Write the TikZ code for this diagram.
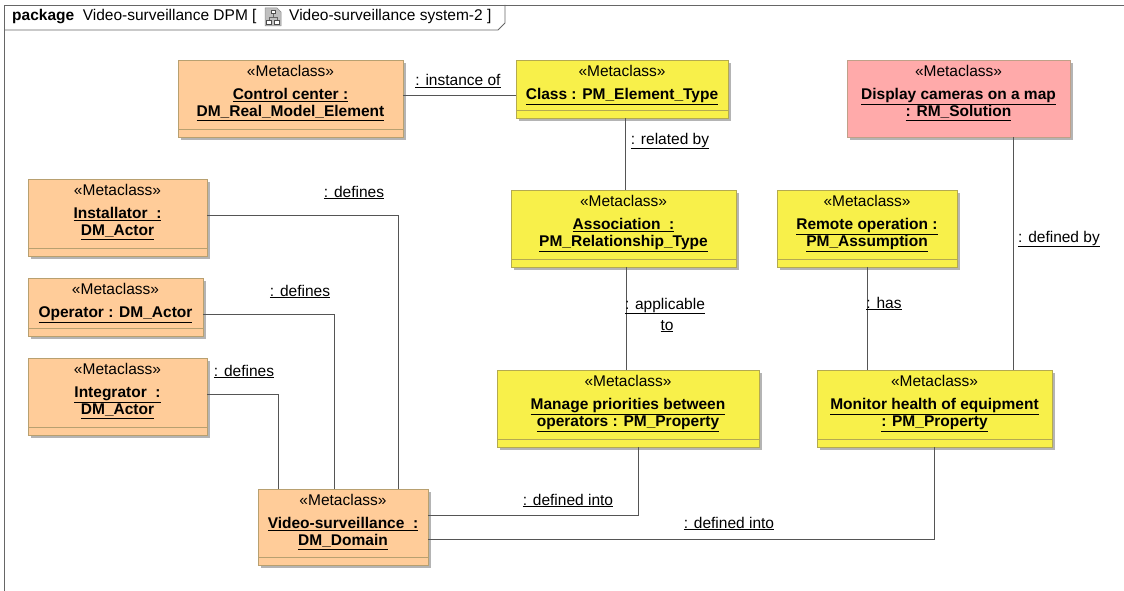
\documentclass[tikz,border=0pt]{standalone}
\usepackage{fontspec}
\setmainfont{Liberation Sans}
\usetikzlibrary{fit,shadows}

\definecolor{orangefill}{HTML}{FFCC99}
\definecolor{orangeline}{HTML}{B8A070}
\definecolor{yellowfill}{HTML}{F8F04A}
\definecolor{yellowline}{HTML}{B4AA50}
\definecolor{pinkfill}{HTML}{FFAAAA}
\definecolor{pinkline}{HTML}{C0A088}
\definecolor{wire}{HTML}{555555}
\definecolor{shade}{HTML}{B4B4B4}
\definecolor{framec}{HTML}{666666}

\tikzset{
  mc/.style={inner sep=0pt, line width=0.9pt,
    drop shadow={shadow xshift=3pt, shadow yshift=-3pt, fill=shade, opacity=1}},
  comp/.style={path picture={\draw[#1, line width=0.9pt]
    ([yshift=8pt]path picture bounding box.south west) --
    ([yshift=8pt]path picture bounding box.south east);}},
  obox/.style={mc, draw=orangeline, fill=orangefill, comp=orangeline},
  ybox/.style={mc, draw=yellowline, fill=yellowfill, comp=yellowline},
  pbox/.style={mc, draw=pinkline, fill=pinkfill},
  txt/.style={inner sep=0pt, text height=11pt, text depth=3pt,
    font=\fontsize{15.5}{17}\selectfont},
  st/.style={txt},
  nm/.style={txt, font=\fontsize{15.5}{17}\selectfont\bfseries},
  lbl/.style={txt},
  wire/.style={draw=wire, line width=0.9pt},
}

\newcommand\stereo[1]{\node[st] (#1-st) at ([yshift=-13pt]#1.north) {«Metaclass»};}
\newcommand\nameline[4]{\node[nm] (#1-#2) at ([yshift=-#3pt]#1.north) {\underline{#4}};}

\begin{document}
\begin{tikzpicture}[x=1pt,y=-1pt]
\useasboundingbox (0,0) rectangle (1124,591);
\clip (0,0) rectangle (1124,591);
\fill[white] (0,0) rectangle (1124,591);

% package frame and its name tab
\draw[framec, line width=0.9pt] (4,5) rectangle (1140,610);
\draw[framec, line width=0.9pt] (4,30) -- (498,30) -- (505,23) -- (505,5);
\node[txt, anchor=west] (pkg) at (12,17)
  {\textbf{package}\ \ Video-surveillance DPM [};
% diagram icon
\begin{scope}[shift={(273,17)}]
  \fill[black!25, draw=black!45, line width=0.5pt]
    (-8,-9) -- (4,-9) -- (8,-5) -- (8,9) -- (-8,9) -- cycle;
  \draw[black!60, line width=0.6pt] (0,-4) -- (0,0) (-4,0) -- (4,0) (-4,0) -- (-4,3) (4,0) -- (4,3);
  \fill[white, draw=black!70, line width=0.5pt] (-2,-7) rectangle (2,-4);
  \fill[white, draw=black!70, line width=0.5pt] (-6.5,3) rectangle (-1.5,7);
  \fill[white, draw=black!70, line width=0.5pt] (1.5,3) rectangle (6.5,7);
\end{scope}
\node[txt, anchor=west] (pkgdiag) at (289,17) {Video-surveillance system-2 ]};

% metaclass boxes
\node[obox, fit={(178,60)(403,137)}] (cc) {};
\node[ybox, fit={(516,60)(728,118)}] (cls) {};
\node[pbox, fit={(847,60)(1070,137)}] (disp) {};
\node[obox, fit={(28,179)(207,256)}] (inst) {};
\node[obox, fit={(28,278)(203,336)}] (oper) {};
\node[obox, fit={(28,358)(207,435)}] (integ) {};
\node[ybox, fit={(511,190)(736,267)}] (assoc) {};
\node[ybox, fit={(777,190)(957,267)}] (remote) {};
\node[ybox, fit={(497,370)(759,447)}] (manage) {};
\node[ybox, fit={(817,370)(1052,447)}] (monitor) {};
\node[obox, fit={(258,489)(428,565)}] (video) {};

% box texts
\stereo{cc}
\nameline{cc}{a}{36}{Control center :}
\nameline{cc}{b}{53}{DM\_Real\_Model\_Element}
\stereo{cls}
\nameline{cls}{a}{36}{Class : PM\_Element\_Type}
\stereo{disp}
\nameline{disp}{a}{36}{Display cameras on a map}
\nameline{disp}{b}{53}{: RM\_Solution}
\stereo{inst}
\nameline{inst}{a}{36}{Installator\ \ :}
\nameline{inst}{b}{53}{DM\_Actor}
\stereo{oper}
\nameline{oper}{a}{36}{Operator : DM\_Actor}
\stereo{integ}
\nameline{integ}{a}{36}{Integrator\ \ :}
\nameline{integ}{b}{53}{DM\_Actor}
\stereo{assoc}
\nameline{assoc}{a}{36}{Association\ \ :}
\nameline{assoc}{b}{53}{PM\_Relationship\_Type}
\stereo{remote}
\nameline{remote}{a}{36}{Remote operation :}
\nameline{remote}{b}{53}{PM\_Assumption}
\stereo{manage}
\nameline{manage}{a}{36}{Manage priorities between}
\nameline{manage}{b}{53}{operators : PM\_Property}
\stereo{monitor}
\nameline{monitor}{a}{36}{Monitor health of equipment}
\nameline{monitor}{b}{53}{: PM\_Property}
\stereo{video}
\nameline{video}{a}{36}{Video-surveillance\ \ :}
\nameline{video}{b}{53}{DM\_Domain}

% connectors
\draw[wire] (cc.east |- 0,95) -- (cls.west |- 0,95);
\draw[wire] (cls.south -| 625,0) -- (assoc.north -| 625,0);
\draw[wire] (assoc.south -| 626,0) -- (manage.north -| 626,0);
\draw[wire] (disp.south -| 1013,0) -- (monitor.north -| 1013,0);
\draw[wire] (remote.south) -- (monitor.north -| remote.south);
\draw[wire] (inst.east |- 0,215) -- (398,215) -- (video.north -| 398,0);
\draw[wire] (oper.east |- 0,314) -- (334,314) -- (video.north -| 334,0);
\draw[wire] (integ.east |- 0,394) -- (278,394) -- (video.north -| 278,0);
\draw[wire] (video.east |- 0,515) -- (638,515) -- (manage.south -| 638,0);
\draw[wire] (video.east |- 0,539) -- (monitor.south |- 0,539) -- (monitor.south);

% connector labels
\node[lbl] (l-inst) at (458,82) {\underline{: instance of}};
\node[lbl] (l-rel) at (670,140) {\underline{: related by}};
\node[lbl] (l-def1) at (354,193) {\underline{: defines}};
\node[lbl] (l-def2) at (300,292) {\underline{: defines}};
\node[lbl] (l-def3) at (244,372) {\underline{: defines}};
\node[lbl] (l-app1) at (665,305) {\underline{: applicable}};
\node[lbl] (l-app2) at (667,326) {\underline{to}};
\node[lbl] (l-has) at (884,304) {\underline{: has}};
\node[lbl] (l-defby) at (1059,238) {\underline{: defined by}};
\node[lbl] (l-into1) at (568,501) {\underline{: defined into}};
\node[lbl] (l-into2) at (729,524) {\underline{: defined into}};
\end{tikzpicture}
\end{document}
